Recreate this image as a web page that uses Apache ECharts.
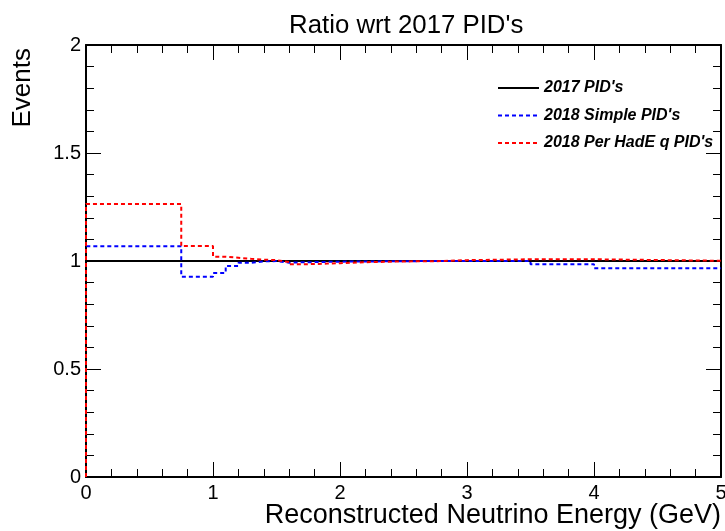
<!DOCTYPE html>
<html>
<head>
<meta charset="utf-8">
<title>Ratio wrt 2017 PID's</title>
<script src="https://cdn.jsdelivr.net/npm/echarts@6/dist/echarts.min.js"></script>
<style>
  html, body { margin: 0; padding: 0; background: #fff; }
  #chart { width: 725px; height: 531px; }
</style>
</head>
<body>
<div id="chart"></div>
<script>
// Reconstructed neutrino energy bin edges (GeV)
const binEdges = [0, 0.75, 1, 1.1, 1.2, 1.3, 1.4, 1.5, 1.6, 1.7, 1.8, 1.9, 2, 2.25, 2.5, 2.75, 3, 3.5, 4, 5];

// Per-bin ratios with respect to the 2017 PID selection
const ratio2017 = [1, 1, 1, 1, 1, 1, 1, 1, 1, 1, 1, 1, 1, 1, 1, 1, 1, 1, 1];
const ratio2018Simple = [1.068, 0.927, 0.944, 0.977, 0.992, 0.998, 1.0, 0.992, 0.994, 0.995, 0.996, 0.997, 0.998, 0.999, 1.0, 1.0, 1.0, 0.985, 0.966];
const ratio2018PerHadE = [1.264, 1.069, 1.02, 1.015, 1.01, 1.006, 1.004, 0.995, 0.985, 0.986, 0.988, 0.99, 0.995, 0.998, 0.999, 1.004, 1.008, 1.008, 1.001];

const seriesNames = ["2017 PID's", "2018 Simple PID's", "2018 Per HadE q PID's"];
const xTickLabels = ['0', '1', '2', '3', '4', '5'];
const yTickLabels = ['0', '0.5', '1', '1.5', '2'];

const FONT = 'Liberation Sans';

// Turn bin contents into histogram-style step points (rising from zero at the first edge)
function histPoints(values) {
  const pts = [[binEdges[0], 0]];
  for (let i = 0; i < values.length; i++) pts.push([binEdges[i], values[i]]);
  pts.push([binEdges[binEdges.length - 1], values[values.length - 1]]);
  return pts;
}

function frameAxis(extra) {
  return Object.assign({
    axisLine: { show: true, onZero: false, lineStyle: { color: '#000', width: 2 } },
    axisTick: { show: true, inside: true, length: 15, lineStyle: { color: '#000', width: 1 } },
    minorTick: { show: true, splitNumber: 5, length: 8, lineStyle: { color: '#000', width: 1 } },
    splitLine: { show: false },
    minorSplitLine: { show: false }
  }, extra);
}

const chart = echarts.init(document.getElementById('chart'), null, { renderer: 'canvas' });

chart.setOption({
  animation: false,
  backgroundColor: '#fff',
  title: {
    text: "Ratio wrt 2017 PID's",
    left: 284, top: 8,
    textStyle: { fontFamily: FONT, fontSize: 25.8, fontWeight: 'normal', color: '#000' }
  },
  legend: {
    orient: 'vertical',
    left: 492, top: 75,
    itemWidth: 41, itemHeight: 14, itemGap: 11.5,
    data: seriesNames,
    itemStyle: { opacity: 0 },
    textStyle: { fontFamily: FONT, fontSize: 16, fontWeight: 'bold', fontStyle: 'italic', color: '#000', padding: [0, 0, 0, 0] }
  },
  grid: { left: 86, right: 4, top: 45, bottom: 54, containLabel: false, outerBoundsMode: 'none' },
  xAxis: [
    frameAxis({
      type: 'value', min: 0, max: 5, interval: 1, position: 'bottom',
      name: 'Reconstructed Neutrino Energy (GeV)',
      nameLocation: 'end', nameGap: 0, nameMoveOverlap: false,
      nameTextStyle: { fontFamily: FONT, fontSize: 27, color: '#000', align: 'right', verticalAlign: 'top', padding: [25, 0, 0, 0] },
      axisLabel: {
        fontFamily: FONT, fontSize: 20, color: '#000', margin: 6,
        formatter: (v) => xTickLabels[Math.round(v)]
      }
    }),
    frameAxis({
      type: 'value', min: 0, max: 5, interval: 1, position: 'top',
      axisLabel: { show: false }
    })
  ],
  yAxis: [
    frameAxis({
      type: 'value', min: 0, max: 2, interval: 0.5, position: 'left',
      name: 'Events',
      nameLocation: 'end', nameRotate: 90, nameGap: -3, nameMoveOverlap: false,
      nameTextStyle: { fontFamily: FONT, fontSize: 26, color: '#000', align: 'right', verticalAlign: 'bottom', padding: [0, 0, 50, 0] },
      axisLabel: {
        fontFamily: FONT, fontSize: 20, color: '#000', margin: 5,
        formatter: (v) => yTickLabels[Math.round(v * 2)]
      }
    }),
    frameAxis({
      type: 'value', min: 0, max: 2, interval: 0.5, position: 'right',
      axisLabel: { show: false }
    })
  ],
  series: [
    {
      name: seriesNames[0], type: 'line', step: 'end', symbol: 'none',
      data: histPoints(ratio2017),
      lineStyle: { color: '#000', width: 2, type: 'solid' },
      itemStyle: { color: '#000' }
    },
    {
      name: seriesNames[1], type: 'line', step: 'end', symbol: 'none',
      data: histPoints(ratio2018Simple),
      lineStyle: { color: '#0000ff', width: 2, type: [4, 3] },
      itemStyle: { color: '#0000ff' }
    },
    {
      name: seriesNames[2], type: 'line', step: 'end', symbol: 'none',
      data: histPoints(ratio2018PerHadE),
      lineStyle: { color: '#ff0000', width: 2, type: [4, 3] },
      itemStyle: { color: '#ff0000' }
    }
  ]
});
</script>
</body>
</html>
